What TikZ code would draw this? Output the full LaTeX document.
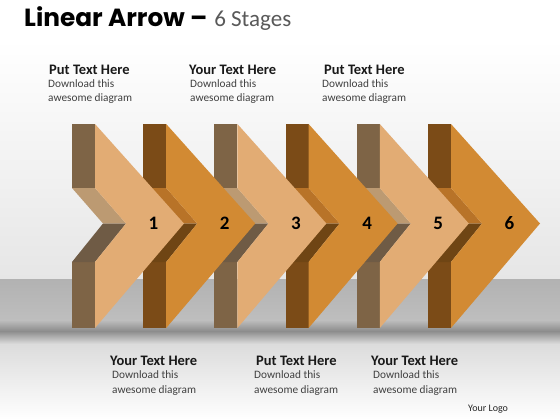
\documentclass[tikz,border=0pt]{standalone}
\usepackage{fontspec}
\setmainfont{Carlito}
\newfontfamily\titlefont{Poppins}
\definecolor{lface}{HTML}{E2AC74}
\definecolor{lpanel}{HTML}{7E6446}
\definecolor{lub}{HTML}{BC9A72}
\definecolor{llb}{HTML}{6F5B45}
\definecolor{dface}{HTML}{D28A33}
\definecolor{dpanel}{HTML}{7B4B17}
\definecolor{dub}{HTML}{B87328}
\definecolor{dlb}{HTML}{6F4514}
\definecolor{bgtop}{HTML}{E6E6E6}
\definecolor{floortop}{HTML}{B2B2B2}
\definecolor{floorbot}{HTML}{BEBEBE}
\definecolor{shadowc}{HTML}{8C8C8C}
\definecolor{lowtop}{HTML}{DCDCDC}
\definecolor{bodytext}{HTML}{404040}
\definecolor{stagegray}{HTML}{595959}
\tikzset{
  head/.style={anchor=base west, inner sep=0pt, font=\bfseries\fontsize{14.5}{17}\selectfont, text=black!90},
  body/.style={anchor=base west, inner sep=0pt, font=\fontsize{11.3}{14}\selectfont, text=bodytext},
  num/.style={inner sep=0pt, font=\bfseries\fontsize{19}{21}\selectfont, text=black}
}
\begin{document}
\begin{tikzpicture}[x=1pt,y=-1pt]
\useasboundingbox (0,0) rectangle (560,420);
% background
\fill[white] (0,0) rectangle (560,40);
\shade[top color=white, bottom color=bgtop] (0,40) rectangle (560,279);
\shade[top color=floortop, bottom color=floorbot] (0,279) rectangle (560,320);
\shade[top color=floorbot, bottom color=shadowc] (0,320) rectangle (560,331);
\shade[top color=shadowc, bottom color=lowtop] (0,331) rectangle (560,344);
\shade[top color=lowtop, bottom color=white] (0,344) rectangle (560,420);
% arrows (drawn from last to first)
\foreach \k/\fc/\pc/\uc/\lc in {6/dface/dpanel/dub/dlb,5/lface/lpanel/lub/llb,4/dface/dpanel/dub/dlb,3/lface/lpanel/lub/llb,2/dface/dpanel/dub/dlb,1/lface/lpanel/lub/llb}{
  \pgfmathsetmacro{\L}{72+71.2*(\k-1)}
  \fill[\pc] (\L,124) rectangle (\L+23,188);
  \fill[\pc] (\L,262) rectangle (\L+23,328);
  \fill[\uc] (\L,188) -- (\L+23,188) -- (\L+54,223.5) -- (\L+31,223.5) -- cycle;
  \fill[\lc] (\L+31,223.5) -- (\L+54,223.5) -- (\L+23,262) -- (\L,262) -- cycle;
  \fill[\fc] (\L+23,124) -- (\L+112,223.5) -- (\L+23,328) -- (\L+23,262) -- (\L+54,223.5) -- (\L+23,188) -- cycle;
  \node[num] (n\k) at (\L+81.5,223) {\k};
}
% title
\node[anchor=base west, inner sep=0pt] (title) at (24,26.7)
  {{\titlefont\bfseries\fontsize{24.8}{28}\selectfont Linear Arrow –}\hspace{7pt}{\fontsize{23}{26}\selectfont\color{stagegray}6 Stages}};
% top texts
\node[head] (h1) at (49,75) {Put Text Here};
\node[body] (b1a) at (48,87.5) {Download this};
\node[body] (b1b) at (48,102) {awesome diagram};
\node[head] (h2) at (189,75) {Your Text Here};
\node[body] (b2a) at (190,87.5) {Download this};
\node[body] (b2b) at (190,102) {awesome diagram};
\node[head] (h3) at (324,75) {Put Text Here};
\node[body] (b3a) at (322,87.5) {Download this};
\node[body] (b3b) at (322,102) {awesome diagram};
% bottom texts
\node[head] (h4) at (110,365) {Your Text Here};
\node[body] (b4a) at (112,378) {Download this};
\node[body] (b4b) at (112,393) {awesome diagram};
\node[head] (h5) at (256,365) {Put Text Here};
\node[body] (b5a) at (254,378) {Download this};
\node[body] (b5b) at (254,393) {awesome diagram};
\node[head] (h6) at (371,365) {Your Text Here};
\node[body] (b6a) at (373,378) {Download this};
\node[body] (b6b) at (373,393) {awesome diagram};
\node[anchor=base west, inner sep=0pt, font=\fontsize{10}{12}\selectfont, text=black!85] (logo) at (468,411) {Your Logo};
\end{tikzpicture}
\end{document}
